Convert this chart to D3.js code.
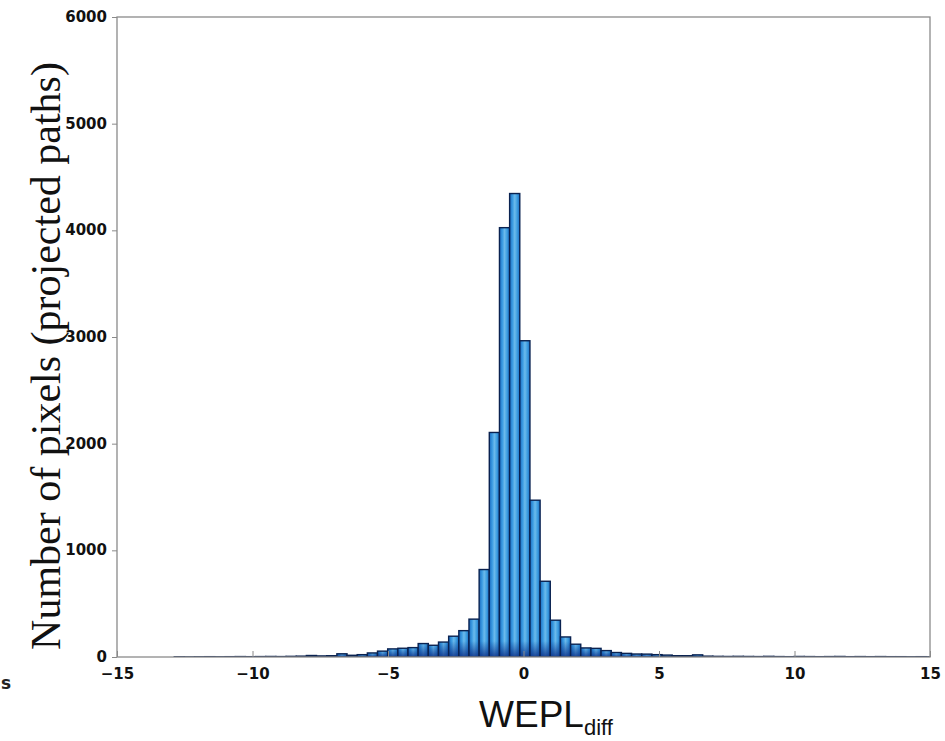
<!DOCTYPE html>
<html>
<head>
<meta charset="utf-8">
<script src="https://cdn.jsdelivr.net/npm/d3@7"></script>
<style>
  html, body { margin: 0; padding: 0; background: #fff; }
  svg { display: block; }
</style>
</head>
<body>
<script>
// Histogram of WEPL differences, fixed-width bins starting at binStart
const binStart = -15.137;
const binWidth = 0.375;
const counts = [
  0, 0, 0, 0, 0, 0, 2, 1, 2, 3,
  2, 3, 4, 3, 4, 5, 4, 6, 8, 14,
  10, 12, 30, 16, 22, 38, 55, 76, 82, 88,
  126, 110, 140, 195, 247, 355, 820, 2105, 4025, 4345,
  2965, 1470, 710, 345, 188, 120, 85, 81, 60, 42,
  34, 28, 27, 22, 18, 12, 12, 20, 8, 6,
  5, 6, 5, 4, 6, 4, 3, 5, 4, 3,
  4, 5, 3, 4, 3, 4, 3, 3, 2, 3, 2
];
const xTicks = [-15, -10, -5, 0, 5, 10, 15];
const yTicks = [0, 1000, 2000, 3000, 4000, 5000, 6000];
const xDomain = [-15, 15];
const yDomain = [0, 6000];
const yTitle = "Number of pixels (projected paths)";
const xTitleMain = "WEPL";
const xTitleSub = "diff";

const W = 945, H = 741;
const m = { left: 117, right: 15, top: 17, bottom: 84 };

const svg = d3.select("body").append("svg").attr("width", W).attr("height", H);
const defs = svg.append("defs");

// bar shading: darker sides, lighter middle
const hg = defs.append("linearGradient").attr("id", "barH").attr("x1", 0).attr("x2", 1).attr("y1", 0).attr("y2", 0);
[[0, "#1a6cc2"], [0.3, "#3d9de2"], [0.5, "#6cbaec"], [0.72, "#41a1e2"], [1, "#1a6cc2"]]
  .forEach(([o, c]) => hg.append("stop").attr("offset", o).attr("stop-color", c));
// darker foot of each bar
const vg = defs.append("linearGradient").attr("id", "barFoot").attr("x1", 0).attr("x2", 0).attr("y1", 0).attr("y2", 1);
[[0, "#0d2f86", 0], [1, "#0d2f86", 0.85]]
  .forEach(([o, c, a]) => vg.append("stop").attr("offset", o).attr("stop-color", c).attr("stop-opacity", a));

const x = d3.scaleLinear().domain(xDomain).range([m.left, W - m.right]);
const y = d3.scaleLinear().domain(yDomain).range([H - m.bottom, m.top]);

defs.append("clipPath").attr("id", "plotClip").append("rect")
  .attr("x", x(xDomain[0])).attr("y", y(yDomain[1]) - 4)
  .attr("width", x(xDomain[1]) - x(xDomain[0])).attr("height", y(0) - y(yDomain[1]) + 4);

const bins = counts.map((c, i) => ({ x0: binStart + i * binWidth, x1: binStart + (i + 1) * binWidth, n: c }));

const g = svg.append("g").attr("clip-path", "url(#plotClip)");
const bar = g.selectAll("g.bar").data(bins.filter(d => d.n > 0)).join("g").attr("class", "bar");
bar.append("rect")
  .attr("x", d => x(d.x0)).attr("width", d => x(d.x1) - x(d.x0))
  .attr("y", d => y(d.n)).attr("height", d => y(0) - y(d.n))
  .attr("fill", "url(#barH)");
bar.append("rect")
  .attr("x", d => x(d.x0)).attr("width", d => x(d.x1) - x(d.x0))
  .attr("y", d => Math.max(y(d.n), y(0) - 16)).attr("height", d => Math.min(y(0) - y(d.n), 16))
  .attr("fill", "url(#barFoot)");
bar.append("rect")
  .attr("x", d => x(d.x0)).attr("width", d => x(d.x1) - x(d.x0))
  .attr("y", d => y(d.n)).attr("height", d => y(0) - y(d.n))
  .attr("fill", "none").attr("stroke", "#0a2250").attr("stroke-width", 1.4);

// frame
const frame = svg.append("g").attr("stroke", "#8a8a8a").attr("stroke-width", 1.3).attr("fill", "none");
frame.append("rect").attr("x", x(xDomain[0])).attr("y", y(yDomain[1]))
  .attr("width", x(xDomain[1]) - x(xDomain[0])).attr("height", y(0) - y(yDomain[1]));

const tickFont = "'DejaVu Sans', Verdana, sans-serif";

// y axis
const yAxis = svg.append("g").attr("transform", `translate(${x(xDomain[0])},0)`)
  .call(d3.axisLeft(y).tickValues(yTicks).tickSize(5).tickPadding(5).tickFormat(d3.format("d")));
yAxis.select(".domain").remove();
yAxis.selectAll("line").attr("stroke", "#8a8a8a");
yAxis.selectAll("text").attr("font-family", tickFont).attr("font-weight", "bold")
  .attr("font-size", 15).attr("fill", "#111").attr("dy", "0.3em");

// x axis with inward ticks
const xAxis = svg.append("g").attr("transform", `translate(0,${y(0)})`)
  .call(d3.axisBottom(x).tickValues(xTicks).tickSize(-6).tickPadding(9).tickFormat(d3.format("d")));
xAxis.select(".domain").remove();
xAxis.selectAll("line").attr("stroke", "#8a8a8a");
xAxis.selectAll("text").attr("font-family", tickFont).attr("font-weight", "bold")
  .attr("font-size", 15).attr("fill", "#111").attr("dy", "0.85em");

// y title
svg.append("text")
  .attr("transform", `translate(60,${(m.top + H - m.bottom) / 2 + 19}) rotate(-90)`)
  .attr("text-anchor", "middle")
  .attr("font-family", "'Liberation Serif', 'Times New Roman', serif")
  .attr("font-size", 42).attr("fill", "#111")
  .text(yTitle);

// x title with subscript
const xt = svg.append("text")
  .attr("x", 546).attr("y", 727)
  .attr("text-anchor", "middle")
  .attr("font-family", "'Liberation Sans', Arial, sans-serif")
  .attr("font-size", 37).attr("fill", "#111");
xt.append("tspan").text(xTitleMain);
xt.append("tspan").attr("font-size", 22).attr("dy", 8).text(xTitleSub);

// edge fragment of a neighbouring label
svg.append("text").attr("x", 1).attr("y", 689)
  .attr("font-family", tickFont).attr("font-weight", "bold").attr("font-size", 17).attr("fill", "#222")
  .text("s");
</script>
</body>
</html>
